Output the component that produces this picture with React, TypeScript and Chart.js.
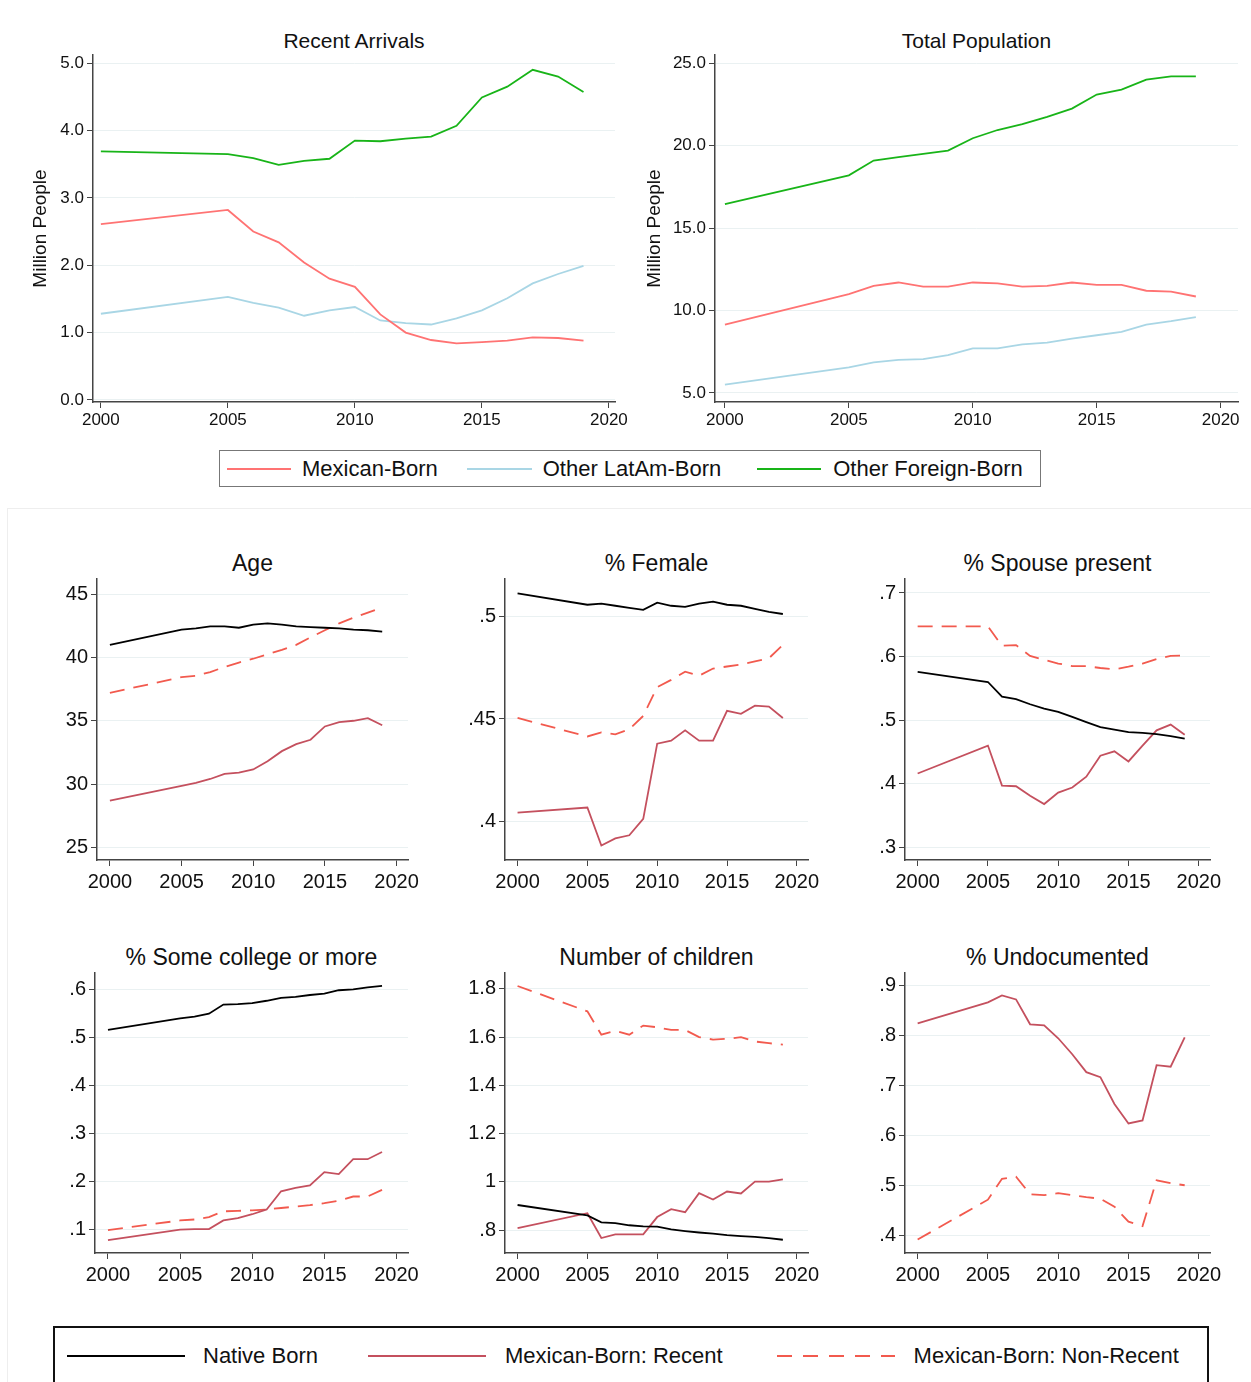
import { Chart, registerables } from "chart.js";
import { useEffect, useRef } from "react";

Chart.register(...registerables);

const years = [2000, 2005, 2006, 2007, 2008, 2009, 2010, 2011, 2012, 2013, 2014, 2015, 2016, 2017, 2018, 2019];

// Recent arrivals (million people)
const recentMex = [2.61, 2.82, 2.5, 2.34, 2.04, 1.8, 1.68, 1.27, 1.0, 0.89, 0.84, 0.86, 0.88, 0.93, 0.92, 0.88];
const recentLat = [1.28, 1.53, 1.44, 1.37, 1.25, 1.33, 1.38, 1.18, 1.14, 1.12, 1.21, 1.33, 1.51, 1.73, 1.87, 1.99];
const recentOth = [3.69, 3.65, 3.59, 3.49, 3.55, 3.58, 3.85, 3.84, 3.88, 3.91, 4.07, 4.49, 4.65, 4.9, 4.8, 4.57];

// Total population (million people)
const totalMex = [9.15, 11.0, 11.5, 11.7, 11.45, 11.45, 11.7, 11.65, 11.45, 11.5, 11.7, 11.55, 11.55, 11.2, 11.15, 10.85];
const totalLat = [5.5, 6.55, 6.85, 7.0, 7.05, 7.3, 7.7, 7.7, 7.95, 8.05, 8.3, 8.5, 8.7, 9.15, 9.35, 9.6];
const totalOth = [16.45, 18.2, 19.1, 19.3, 19.5, 19.7, 20.45, 20.95, 21.3, 21.75, 22.25, 23.1, 23.4, 24.0, 24.2, 24.2];

// Characteristics: native, recent Mexican-born, non-recent Mexican-born
const ageNat = [41.0, 42.2, 42.3, 42.45, 42.45, 42.35, 42.6, 42.7, 42.6, 42.45, 42.4, 42.35, 42.3, 42.2, 42.15, 42.05];
const ageRec = [28.7, 29.85, 30.1, 30.4, 30.8, 30.9, 31.15, 31.8, 32.6, 33.15, 33.5, 34.55, 34.9, 35.0, 35.2, 34.65];
const ageNon = [37.2, 38.45, 38.55, 38.85, 39.25, 39.6, 39.9, 40.25, 40.6, 41.0, 41.6, 42.15, 42.7, 43.15, 43.55, 43.95];

const femNat = [0.511, 0.5055, 0.506, 0.505, 0.504, 0.503, 0.5065, 0.505, 0.5045, 0.506, 0.507, 0.5055, 0.505, 0.5035, 0.502, 0.501];
const femRec = [0.4045, 0.407, 0.3885, 0.392, 0.3935, 0.4015, 0.438, 0.4395, 0.4445, 0.4395, 0.4395, 0.454, 0.4525, 0.4565, 0.456, 0.4505];
const femNon = [0.4505, 0.4415, 0.4435, 0.4425, 0.445, 0.4515, 0.4655, 0.469, 0.473, 0.471, 0.4745, 0.4755, 0.4765, 0.478, 0.4795, 0.486];

const spoNat = [0.576, 0.56, 0.537, 0.533, 0.525, 0.518, 0.513, 0.505, 0.497, 0.489, 0.485, 0.481, 0.48, 0.478, 0.475, 0.471];
const spoRec = [0.416, 0.46, 0.397, 0.396, 0.381, 0.368, 0.386, 0.394, 0.411, 0.444, 0.451, 0.435, 0.46, 0.484, 0.493, 0.477];
const spoNon = [0.6475, 0.6475, 0.617, 0.618, 0.601, 0.595, 0.589, 0.585, 0.585, 0.582, 0.58, 0.584, 0.589, 0.596, 0.601, 0.6015];

const colNat = [0.516, 0.54, 0.544, 0.55, 0.569, 0.57, 0.572, 0.577, 0.583, 0.585, 0.589, 0.592, 0.599, 0.601, 0.605, 0.608];
const colRec = [0.077, 0.099, 0.1, 0.1, 0.118, 0.123, 0.131, 0.141, 0.179, 0.186, 0.191, 0.219, 0.215, 0.246, 0.246, 0.261];
const colNon = [0.098, 0.118, 0.12, 0.125, 0.137, 0.138, 0.139, 0.141, 0.144, 0.147, 0.15, 0.154, 0.159, 0.168, 0.168, 0.182];

const kidNat = [0.904, 0.861, 0.832, 0.829, 0.82, 0.815, 0.814, 0.803, 0.796, 0.79, 0.785, 0.779, 0.775, 0.772, 0.767, 0.76];
const kidRec = [0.808, 0.87, 0.767, 0.782, 0.782, 0.782, 0.854, 0.887, 0.874, 0.953, 0.927, 0.96, 0.952, 1.001, 1.001, 1.01];
const kidNon = [1.812, 1.707, 1.61, 1.626, 1.61, 1.648, 1.641, 1.63, 1.63, 1.6, 1.59, 1.593, 1.6, 1.582, 1.575, 1.569];

const undRec = [0.825, 0.867, 0.881, 0.873, 0.823, 0.821, 0.795, 0.763, 0.727, 0.717, 0.663, 0.624, 0.63, 0.741, 0.738, 0.797];
const undNon = [0.391, 0.471, 0.513, 0.517, 0.482, 0.48, 0.484, 0.48, 0.476, 0.473, 0.457, 0.427, 0.418, 0.51, 0.504, 0.5];

const xTicks = [2000, 2005, 2010, 2015, 2020];
const recentTicks = [0, 1, 2, 3, 4, 5];
const totalTicks = [5, 10, 15, 20, 25];
const ageTicks = [25, 30, 35, 40, 45];
const femTicks = [0.4, 0.45, 0.5];
const spoTicks = [0.3, 0.4, 0.5, 0.6, 0.7];
const colTicks = [0.1, 0.2, 0.3, 0.4, 0.5, 0.6];
const kidTicks = [0.8, 1, 1.2, 1.4, 1.6, 1.8];
const undTicks = [0.4, 0.5, 0.6, 0.7, 0.8, 0.9];

const FONT = "'Liberation Sans', Arial, Helvetica, sans-serif";
const MEX = "#ff7373";
const LAT = "#a9d6e5";
const OTH = "#18b418";
const NAT = "#000000";
const REC = "#c4505e";
const NON = "#f25a4e";

type Series = { values: number[]; color: string; dash?: number[] };

const pts = (vals: number[]) => vals.map((v, i) => ({ x: years[i], y: v }));
const oneDec = (v: number) => v.toFixed(1);
const frac = (v: number) => String(v).replace(/^0\./, ".");

interface PanelProps {
  plotLeft: number; plotTop: number; plotRight: number; plotBottom: number;
  yWidth: number; title: string; titleSize: number; tickSize: number; titleGap: number; xPad: number;
  yTitle?: string; xMin: number; xMax: number; yMin: number; yMax: number;
  yTicks: number[]; fmt: (v: number) => string; series: Series[];
}

const Panel = (p: PanelProps) => {
  const ref = useRef<HTMLCanvasElement>(null);
  const padTop = 14;
  const padRight = 24;
  const xH = p.tickSize + 14 + p.xPad;
  const left = p.plotLeft - p.yWidth;
  const top = p.plotTop - padTop;
  const width = p.plotRight + padRight - left;
  const height = p.plotBottom + xH - top;

  useEffect(() => {
    if (!ref.current) return;
    const chart = new Chart(ref.current, {
      type: "line",
      data: {
        datasets: p.series.map((s) => ({
          data: pts(s.values),
          borderColor: s.color,
          borderWidth: 1.8,
          borderDash: s.dash || [],
          pointRadius: 0,
          tension: 0,
        })),
      },
      options: {
        responsive: false,
        animation: false,
        layout: { padding: { top: padTop, right: padRight, left: 0, bottom: 0 } },
        plugins: { legend: { display: false }, tooltip: { enabled: false } },
        scales: {
          x: {
            type: "linear", min: p.xMin, max: p.xMax,
            afterBuildTicks: (s: any) => { s.ticks = xTicks.map((value) => ({ value })); },
            afterFit: (s: any) => { s.height = xH; },
            grid: { drawOnChartArea: false, tickColor: "#444", tickLength: 6 },
            border: { color: "#444", width: 1.5 },
            ticks: { color: "#111", font: { family: FONT, size: p.tickSize }, padding: 1 + p.xPad, maxRotation: 0, callback: (v: any) => String(v) },
          },
          y: {
            type: "linear", min: p.yMin, max: p.yMax,
            afterBuildTicks: (s: any) => { s.ticks = p.yTicks.map((value) => ({ value })); },
            afterFit: (s: any) => { s.width = p.yWidth; },
            grid: { color: "#eaf1f2", tickColor: "#444", tickLength: 6 },
            border: { color: "#444", width: 1.5 },
            title: p.yTitle
              ? { display: true, text: p.yTitle, color: "#111", font: { family: FONT, size: 19 }, padding: { top: 0, bottom: 2 } }
              : { display: false },
            ticks: { color: "#111", font: { family: FONT, size: p.tickSize }, padding: 3, callback: (v: any) => p.fmt(Number(v)) },
          },
        },
      },
    } as any);
    return () => chart.destroy();
  }, []);

  const titleH = p.titleSize * 1.2;
  return (
    <>
      <div style={{ position: "absolute", left: p.plotLeft, width: p.plotRight - p.plotLeft, top: p.plotTop - titleH - p.titleGap,
        textAlign: "center", fontSize: p.titleSize, lineHeight: `${titleH}px`, whiteSpace: "nowrap" }}>{p.title}</div>
      <canvas ref={ref} width={width} height={height}
        style={{ position: "absolute", left, top, width, height }} />
    </>
  );
};

const Line = ({ color, dash, w }: { color: string; dash?: boolean; w: number }) => (
  <span style={{
    display: "inline-block", width: w, height: 2, verticalAlign: "middle",
    background: dash ? `repeating-linear-gradient(90deg, ${color} 0 15px, transparent 15px 26px)` : color,
  }} />
);

export default function App() {
  const bot = { yWidth: 55, titleSize: 23, tickSize: 20, titleGap: 0, xPad: 3, xMin: 1999.1, xMax: 2020.8 };
  const top = { titleSize: 21, tickSize: 17, titleGap: 2, xPad: 1 };
  const c1 = { plotLeft: 97, plotRight: 408 };
  const c2 = { plotLeft: 505, plotRight: 808 };
  const c3 = { plotLeft: 905, plotRight: 1210 };
  const r1 = { plotTop: 578, plotBottom: 860 };
  const r2 = { plotTop: 972, plotBottom: 1253 };
  const nat = (v: number[]) => ({ values: v, color: NAT });
  const rec = (v: number[]) => ({ values: v, color: REC });
  const non = (v: number[]) => ({ values: v, color: NON, dash: [15, 9] });

  return (
    <div style={{ position: "absolute", left: 0, top: 0, width: 1251, height: 1382, overflow: "hidden", fontFamily: FONT, color: "#111", background: "#fff" }}>
      <Panel {...top} plotLeft={93} plotTop={55} plotRight={615} plotBottom={402} yWidth={64} title="Recent Arrivals"
        yTitle="Million People" xMin={1999.69} xMax={2020.24} yMin={-0.03} yMax={5.12}
        yTicks={recentTicks} fmt={oneDec}
        series={[{ values: recentMex, color: MEX }, { values: recentLat, color: LAT }, { values: recentOth, color: OTH }]} />
      <Panel {...top} plotLeft={715} plotTop={55} plotRight={1238} plotBottom={402} yWidth={72} title="Total Population"
        yTitle="Million People" xMin={1999.6} xMax={2020.7} yMin={4.45} yMax={25.5}
        yTicks={totalTicks} fmt={oneDec}
        series={[{ values: totalMex, color: MEX }, { values: totalLat, color: LAT }, { values: totalOth, color: OTH }]} />

      <div style={{ position: "absolute", left: 219, top: 450, width: 820, height: 35, border: "1px solid #777", fontSize: 22, display: "flex", alignItems: "center", whiteSpace: "nowrap" }}>
        <span style={{ marginLeft: 7, display: "flex" }}><Line color={MEX} w={64} /></span>
        <span style={{ marginLeft: 11 }}>Mexican-Born</span>
        <span style={{ marginLeft: 29, display: "flex" }}><Line color={LAT} w={65} /></span>
        <span style={{ marginLeft: 11 }}>Other LatAm-Born</span>
        <span style={{ marginLeft: 36, display: "flex" }}><Line color={OTH} w={64} /></span>
        <span style={{ marginLeft: 12 }}>Other Foreign-Born</span>
      </div>

      <div style={{ position: "absolute", left: 7, top: 508, width: 1250, height: 900, border: "1px solid #eee" }} />

      <Panel {...bot} {...c1} {...r1} title="Age" yMin={24} yMax={46.2} yTicks={ageTicks} fmt={frac}
        series={[nat(ageNat), rec(ageRec), non(ageNon)]} />
      <Panel {...bot} {...c2} {...r1} title="% Female" yMin={0.3815} yMax={0.518} yTicks={femTicks} fmt={frac}
        series={[nat(femNat), rec(femRec), non(femNon)]} />
      <Panel {...bot} {...c3} {...r1} title="% Spouse present" yMin={0.28} yMax={0.722} yTicks={spoTicks} fmt={frac}
        series={[nat(spoNat), rec(spoRec), non(spoNon)]} />
      <Panel {...bot} {...c1} plotLeft={95} {...r2} title="% Some college or more" yMin={0.05} yMax={0.635} yTicks={colTicks} fmt={frac}
        series={[nat(colNat), rec(colRec), non(colNon)]} />
      <Panel {...bot} {...c2} {...r2} title="Number of children" yMin={0.705} yMax={1.866} yTicks={kidTicks} fmt={frac}
        series={[nat(kidNat), rec(kidRec), non(kidNon)]} />
      <Panel {...bot} {...c3} {...r2} title="% Undocumented" yMin={0.364} yMax={0.926} yTicks={undTicks} fmt={frac}
        series={[rec(undRec), non(undNon)]} />

      <div style={{ position: "absolute", left: 53, top: 1326, width: 1152, height: 80, border: "2px solid #111", fontSize: 22 }}>
        <div style={{ position: "absolute", top: 15, left: 12, display: "flex", alignItems: "center", whiteSpace: "nowrap" }}>
          <span style={{ display: "flex" }}><Line color={NAT} w={118} /></span>
          <span style={{ marginLeft: 18 }}>Native Born</span>
          <span style={{ marginLeft: 50, display: "flex" }}><Line color={REC} w={118} /></span>
          <span style={{ marginLeft: 19 }}>Mexican-Born: Recent</span>
          <span style={{ marginLeft: 54, display: "flex" }}><Line color={NON} dash w={118} /></span>
          <span style={{ marginLeft: 19 }}>Mexican-Born: Non-Recent</span>
        </div>
      </div>
    </div>
  );
}
